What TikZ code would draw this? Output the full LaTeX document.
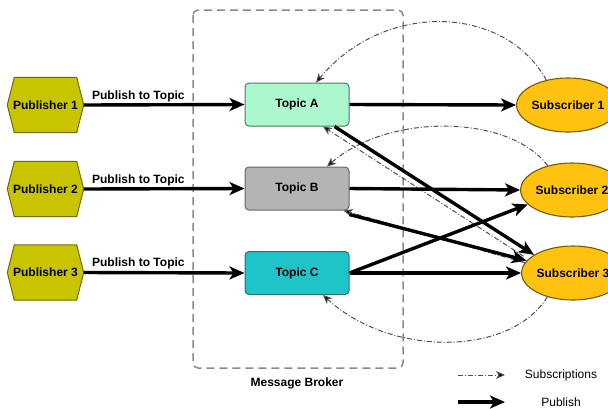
\documentclass[tikz,border=0pt]{standalone}
\usepackage{fontspec}
\setmainfont{Liberation Sans}
\usetikzlibrary{arrows.meta,shapes.geometric,backgrounds}
\definecolor{pubfill}{HTML}{C8C400}
\definecolor{pubedge}{HTML}{6E6C00}
\definecolor{tafill}{HTML}{ABF7CE}
\definecolor{taedge}{HTML}{4F7A62}
\definecolor{tbfill}{HTML}{B4B4B4}
\definecolor{tbedge}{HTML}{666666}
\definecolor{tcfill}{HTML}{1FC4C8}
\definecolor{tcedge}{HTML}{2F6F74}
\definecolor{subfill}{HTML}{FFC20E}
\definecolor{subedge}{HTML}{7A5A00}
\definecolor{brokeredge}{HTML}{8A8A8A}
\definecolor{subline}{HTML}{505050}
\tikzset{
  txt/.style={font=\fontsize{12}{14}\selectfont\bfseries},
  pubnode/.style={txt, minimum width=76pt, minimum height=55pt, inner sep=0pt},
  hexdraw/.style={draw=pubedge, fill=pubfill, line width=1pt},
  topic/.style={txt, draw, rounded corners=4pt, line width=1pt,
    minimum width=104pt, minimum height=43pt, inner sep=0pt},
  subnode/.style={txt, ellipse, draw=subedge, fill=subfill, line width=1.1pt,
    minimum width=86pt, minimum height=54pt, inner sep=0pt},
  pubarrow/.style={line width=3.4pt, -{Stealth[length=15pt,width=13pt,inset=4pt]}},
  subarrow/.style={draw=subline, line width=1pt,
    dash pattern=on 5pt off 2pt on 1pt off 2pt,
    -{Stealth[length=9pt,width=8pt,inset=2.5pt,fill=black]}},
  lbl/.style={txt, above=0.5pt, inner sep=1pt},
  legend/.style={font=\fontsize{12}{14}\selectfont}
}
\begin{document}
\begin{tikzpicture}[x=1pt,y=-1pt]
\useasboundingbox (0,0) rectangle (608,408);
\clip (0,0) rectangle (608,408);

% message broker frame
\draw[brokeredge, line width=1.5pt, dash pattern=on 8pt off 5pt, rounded corners=5pt]
  (193,10) rectangle (403,368);
\node[txt] (broker) at (297,383) {Message Broker};

% publishers (hexagons drawn behind their labels)
\node[pubnode] (p1) at (45.5,105) {Publisher 1};
\node[pubnode] (p2) at (45.5,189) {Publisher 2};
\node[pubnode] (p3) at (45.5,272.5) {Publisher 3};
\begin{scope}[on background layer]
\foreach \n in {p1,p2,p3}
  \draw[hexdraw] ([xshift=7pt]\n.north west) -- ([xshift=-7pt]\n.north east)
    -- (\n.east) -- ([xshift=-7pt]\n.south east) -- ([xshift=7pt]\n.south west)
    -- (\n.west) -- cycle;
\end{scope}

% topics
\node[topic, fill=tafill, draw=taedge] (tA) at (297,104.5) {Topic A};
\node[topic, fill=tbfill, draw=tbedge] (tB) at (297,188.5) {Topic B};
\node[topic, fill=tcfill, draw=tcedge] (tC) at (297,273) {Topic C};

% subscribers
\node[subnode] (s1) at (568,105) {Subscriber 1};
\node[subnode] (s2) at (572,190) {Subscriber 2};
\node[subnode] (s3) at (573,273) {Subscriber 3};

% subscriptions
\draw[subarrow] (s1.131) .. controls (505,5) and (385,0) .. ([xshift=19pt]tA.north);
\draw[subarrow] (s2.135) .. controls (510,115) and (390,112) .. ([xshift=30pt]tB.north);
\draw[subarrow] ([xshift=-8pt]s3.158) -- ([xshift=26pt]tA.south);
\draw[subarrow] (s3.168) -- ([xshift=-6pt]tB.south east);
\draw[subarrow] (s3.223) .. controls (510,357) and (390,357) .. ([xshift=26pt]tC.south);

% publishing to topics
\draw[pubarrow] (p1.east) -- node[lbl, pos=0.34] {Publish to Topic} (tA.west);
\draw[pubarrow] (p2.east) -- node[lbl, pos=0.34] {Publish to Topic} (tB.west);
\draw[pubarrow] (p3.east) -- node[lbl, pos=0.34] {Publish to Topic} (tC.west);

% delivery to subscribers
\draw[pubarrow] (tA.east) -- (s1.west);
\draw[pubarrow] ([xshift=-15pt]tA.south east) -- (s3.155);
\draw[pubarrow] (tB.east) -- (s2.west);
\draw[pubarrow] ([yshift=-4pt]tB.south east) -- (s3.165);
\draw[pubarrow] (tC.east) -- (s3.west);
\draw[pubarrow] (tC.east) -- (s2.198);

% legend
\coordinate (l1a) at (458,375);
\coordinate (l1b) at (505,375);
\coordinate (l2a) at (458,402);
\coordinate (l2b) at (505,402);
\draw[subarrow] (l1a) -- (l1b);
\draw[pubarrow] (l2a) -- (l2b);
\node[legend] (lsub) at (561,375) {Subscriptions};
\node[legend] (lpub) at (561,402) {Publish};
\end{tikzpicture}
\end{document}
